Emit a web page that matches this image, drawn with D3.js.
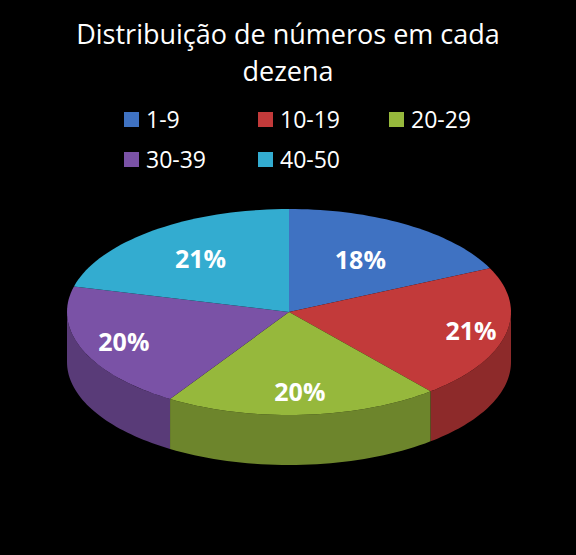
<!doctype html>
<html>
<head>
<style type="text/css">
  body { margin: 0; background: black; }
  svg { display: block; }
</style>
<script src="https://cdn.jsdelivr.net/npm/d3@7"></script>
</head>
<body>
<svg id="chart" width="576" height="555"></svg>
<script>
  var categories = ["1-9", "10-19", "20-29", "30-39", "40-50"];
  var values = [18, 21, 20, 20, 21];
  var colors = ["#3f72c2", "#c23a3a", "#96b83c", "#7a52a6", "#33acd0"];

  var svg = d3.select("#chart");
  var font = "'Open Sans', 'Liberation Sans', sans-serif";
  var cx = 289, cy = 312, rx = 222, ry = 103, depth = 50;

  // title
  svg.append("text").attr("x", 288).attr("y", 44).attr("text-anchor", "middle")
    .attr("fill", "white").style("font", "27px " + font).text("Distribuição de números em cada");
  svg.append("text").attr("x", 288).attr("y", 81).attr("text-anchor", "middle")
    .attr("fill", "white").style("font", "27px " + font).text("dezena");

  // legend
  var legPos = [[124, 120], [258, 120], [389, 120], [124, 160], [258, 160]];
  categories.forEach(function(c, i) {
    var g = svg.append("g").attr("transform", "translate(" + legPos[i][0] + "," + legPos[i][1] + ")");
    g.append("rect").attr("x", 0).attr("y", -8).attr("width", 15).attr("height", 15).attr("fill", colors[i]);
    g.append("text").attr("x", 22).attr("y", 8).attr("fill", "white").style("font", "23px " + font).text(c);
  });

  var pie = d3.pie().sort(null)(values);
  function pt(a, dy) { return [cx + rx * Math.sin(a), cy - ry * Math.cos(a) + (dy || 0)]; }
  var line = d3.line();

  // side walls (front half only)
  pie.forEach(function(p, i) {
    var a0 = Math.max(p.startAngle, Math.PI / 2), a1 = Math.min(p.endAngle, Math.PI * 1.5);
    if (a1 <= a0) return;
    var top = d3.range(0, 41).map(function(k) { return pt(a0 + (a1 - a0) * k / 40); });
    var bot = top.slice().reverse().map(function(q) { return [q[0], q[1] + depth]; });
    var col = d3.color(colors[i]).darker(0.9);
    svg.append("path").attr("d", line(top.concat(bot)) + "Z").attr("fill", col);
  });

  // top faces
  pie.forEach(function(p, i) {
    var pts = [[cx, cy]].concat(d3.range(0, 41).map(function(k) {
      return pt(p.startAngle + (p.endAngle - p.startAngle) * k / 40);
    }));
    svg.append("path").attr("d", line(pts) + "Z").attr("fill", colors[i]);
  });

  // labels
  var total = d3.sum(values);
  var fr = [0.6, 0.84, 0.78, 0.8, 0.65];
  pie.forEach(function(p, i) {
    var a = (p.startAngle + p.endAngle) / 2;
    var q = [cx + rx * fr[i] * Math.sin(a), cy - ry * fr[i] * Math.cos(a)];
    svg.append("text").attr("x", q[0]).attr("y", q[1] + 9).attr("text-anchor", "middle")
      .attr("fill", "white").style("font", "bold 25px " + font)
      .text(Math.round(values[i] / total * 100) + "%");
  });
</script>
</body>
</html>
